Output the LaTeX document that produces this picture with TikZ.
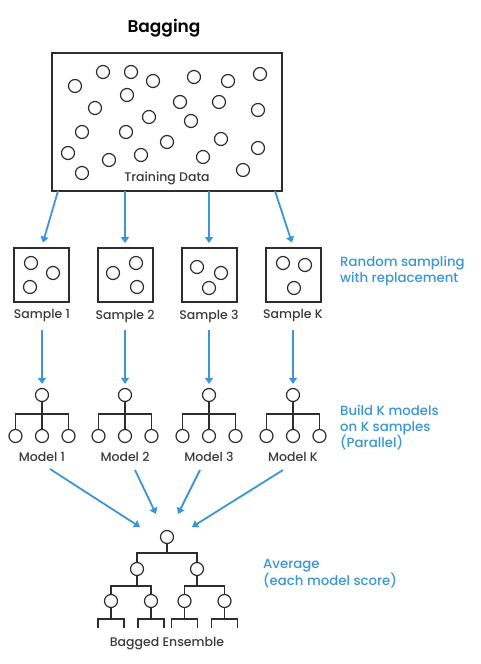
\documentclass[tikz,border=0pt]{standalone}
\usepackage{fontspec}
\setmainfont{Poppins}[UprightFont=* Medium,BoldFont=* SemiBold]
\usetikzlibrary{arrows.meta}
\definecolor{bl}{RGB}{58,150,212}
\definecolor{ln}{RGB}{45,45,45}
\definecolor{tx}{RGB}{60,60,60}
\begin{document}
\begin{tikzpicture}[x=1pt,y=-1pt,
 dot/.style={circle,draw=ln,line width=1.2pt,minimum size=13pt,inner sep=0pt},
 frame/.style={draw=ln,line width=1.3pt,inner sep=0pt},
 lbl/.style={text=tx,font=\fontsize{12.5}{14}\selectfont,inner sep=0pt},
 note/.style={text=bl,font=\fontsize{13.3}{16}\selectfont,align=left,anchor=west,inner sep=0pt},
 arr/.style={draw=bl,line width=1.8pt,-{Triangle[length=6pt,width=8pt]}},
 br/.style={draw=ln,line width=1.2pt}]
\useasboundingbox[fill=white] (0,0) rectangle (481,664);
% title
\node[text=black,font=\fontsize{17}{19}\selectfont\bfseries,inner sep=0pt] (title) at (164,28) {Bagging};
% training data
\node[frame,minimum width=230pt,minimum height=138pt] (train) at (167,122) {};
\foreach \x/\y [count=\i] in {75/86,103/72,131/72,153/81,194/77,228/81,260/74,127/95,95/108,180/102,219/102,258/110,149/117,191/121,82/132,126/132,167/142,221/139,68/153,109/160,141/155,203/157,258/148,82/173,243/170}
  \node[dot] (t\i) at (\x,\y) {};
\node[lbl] (tlab) at (167,178) {Training Data};
% samples
\node[frame,minimum width=55pt,minimum height=54pt] (s1) at (41.5,275) {};
\node[frame,minimum width=55pt,minimum height=54pt] (s2) at (125.5,275) {};
\node[frame,minimum width=55pt,minimum height=54pt] (s3) at (209.5,275) {};
\node[frame,minimum width=55pt,minimum height=54pt] (s4) at (293.5,275) {};
\node[dot] (s1a) at (31,263) {};
\node[dot] (s1b) at (53,273) {};
\node[dot] (s1c) at (30,287) {};
\node[dot] (s2a) at (113,273) {};
\node[dot] (s2b) at (136,263) {};
\node[dot] (s2c) at (137,287) {};
\node[dot] (s3a) at (197,267) {};
\node[dot] (s3b) at (221,273) {};
\node[dot] (s3c) at (209,288) {};
\node[dot] (s4a) at (283,263) {};
\node[dot] (s4b) at (305,265) {};
\node[dot] (s4c) at (294,288) {};
\node[lbl] (sl1) at (42,316) {Sample 1};
\node[lbl] (sl2) at (125,316) {Sample 2};
\node[lbl] (sl3) at (209,316) {Sample 3};
\node[lbl] (sl4) at (293,316) {Sample K};
% arrows training -> samples
\coordinate (tb1) at (58,191);
\coordinate (tb2) at (125,191);
\coordinate (tb3) at (209,191);
\coordinate (tb4) at (275,191);
\coordinate (te2) at (125,243);
\coordinate (te3) at (209,243);
\draw[arr,shorten >=5pt] (tb1) -- (s1.north);
\draw[arr] (tb2) -- (te2);
\draw[arr] (tb3) -- (te3);
\draw[arr,shorten >=5pt] (tb4) -- (s4.north);
% models
\foreach \x [count=\i] in {42,125,209,293} {
  \node[dot] (mr\i) at (\x,395) {};
  \node[dot] (ma\i) at (\x-26.5,436) {};
  \node[dot] (mb\i) at (\x,436) {};
  \node[dot] (mc\i) at (\x+26.5,436) {};
  \draw[br] (mr\i.south) -- (mb\i.north);
  \draw[br] (ma\i.north) -- (ma\i.north |- 0,414) -- (mc\i.north |- 0,414) -- (mc\i.north);
  \coordinate (a\i) at (\x,330);
  \draw[arr,shorten >=4pt] (a\i) -- (mr\i.north);
}
\node[lbl] (ml1) at (42,457) {Model 1};
\node[lbl] (ml2) at (125,457) {Model 2};
\node[lbl] (ml3) at (209,457) {Model 3};
\node[lbl] (ml4) at (293,457) {Model K};
% notes
\node[note] (n1) at (340,271) {Random sampling\\with replacement};
\node[note] (n2) at (340,428) {Build K models\\on K samples\\(Parallel)};
\node[note] (n3) at (263,574) {Average\\(each model score)};
% ensemble
\node[dot] (e0) at (167,537) {};
\node[dot] (e1) at (137,569) {};
\node[dot] (e2) at (197,569) {};
\node[dot] (f1) at (111,601) {};
\node[dot] (f2) at (151,601) {};
\node[dot] (f3) at (184.5,601) {};
\node[dot] (f4) at (224.5,601) {};
\draw[br] (e0.south) -- (167,553);
\draw[br] (e1.north) -- (e1.north |- 0,553) -- (e2.north |- 0,553) -- (e2.north);
\draw[br] (e1.south) -- (e1.south |- 0,586);
\draw[br] (f1.north) -- (f1.north |- 0,586) -- (f2.north |- 0,586) -- (f2.north);
\draw[br] (e2.south) -- (e2.south |- 0,586);
\draw[br] (f3.north) -- (f3.north |- 0,586) -- (f4.north |- 0,586) -- (f4.north);
\foreach \i in {1,...,4} {
  \draw[br] (f\i.south) -- (f\i.south |- 0,619);
  \draw[br] ([xshift=-13pt]f\i.south |- 0,628) -- ([xshift=-13pt]f\i.south |- 0,619) -- ([xshift=13pt]f\i.south |- 0,619) -- ([xshift=13pt]f\i.south |- 0,628);
}
\node[lbl] (el) at (167,644) {Bagged Ensemble};
% converging arrows
\coordinate (c1) at (50,469);
\coordinate (c2) at (135,470);
\coordinate (c3) at (200,470);
\coordinate (c4) at (283,470);
\coordinate (p1) at (140,527);
\coordinate (p2) at (156,514);
\coordinate (p3) at (178,514);
\coordinate (p4) at (192,527);
\draw[arr] (c1) -- (p1);
\draw[arr] (c2) -- (p2);
\draw[arr] (c3) -- (p3);
\draw[arr] (c4) -- (p4);
\end{tikzpicture}
\end{document}
